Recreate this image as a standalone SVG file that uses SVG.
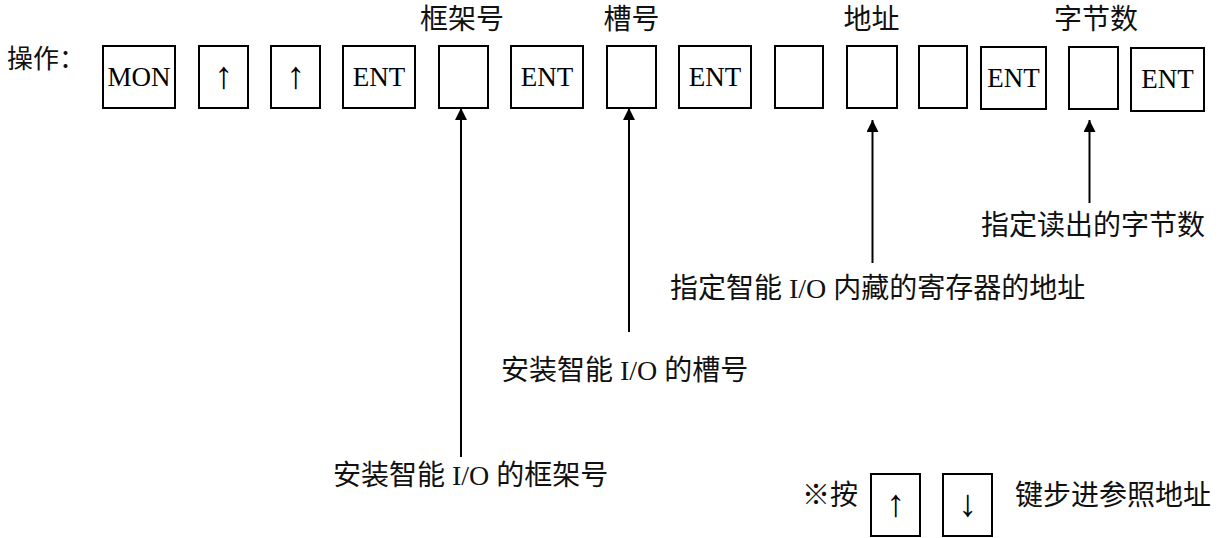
<svg xmlns="http://www.w3.org/2000/svg" width="1221" height="538" viewBox="0 0 1221 538">
<style>
.key{fill:#fff;stroke:#000;stroke-width:2}
.kt{font-family:"Liberation Serif","Noto Sans CJK SC",serif;font-size:27px;fill:#000;text-anchor:middle}
.ar{font-family:"Liberation Serif","DejaVu Serif",serif;font-size:38px;fill:#000;text-anchor:middle}
.lb{font-family:"Liberation Serif","Noto Sans CJK SC",serif;font-size:28px;fill:#111}
.lc{font-family:"Liberation Serif","Noto Sans CJK SC",serif;font-size:28px;fill:#111;text-anchor:middle}
.ln{stroke:#000;stroke-width:2;fill:none}
</style>
<defs>
<marker id="ah" markerUnits="userSpaceOnUse" markerWidth="12" markerHeight="12" refX="12" refY="6" orient="auto" viewBox="0 0 12 12">
<path d="M0,0 L12,6 L0,12 Z" fill="#000"/>
</marker>
</defs>
<text id="op" class="lb" x="7" y="68" style="font-size:26px">操作：</text>
<g id="k1"><rect class="key" x="103" y="46" width="72" height="62"/><text class="kt" x="139" y="86">MON</text></g>
<g id="k2"><rect class="key" x="199" y="46" width="49" height="62"/><text class="ar" x="223.5" y="88">↑</text></g>
<g id="k3"><rect class="key" x="271" y="46" width="49" height="62"/><text class="ar" x="295.5" y="88">↑</text></g>
<g id="k4"><rect class="key" x="343" y="46" width="72" height="62"/><text class="kt" x="379" y="86">ENT</text></g>
<g id="k5"><rect class="key" x="439" y="46" width="49" height="62"/></g>
<g id="k6"><rect class="key" x="511" y="46" width="72" height="62"/><text class="kt" x="547" y="86">ENT</text></g>
<g id="k7"><rect class="key" x="607" y="46" width="49" height="62"/></g>
<g id="k8"><rect class="key" x="679" y="46" width="72" height="62"/><text class="kt" x="715" y="86">ENT</text></g>
<g id="k9"><rect class="key" x="775" y="46" width="48" height="62"/></g>
<g id="k10"><rect class="key" x="847" y="46" width="50" height="62"/></g>
<g id="k11"><rect class="key" x="919" y="46" width="48" height="62"/></g>
<g id="k12"><rect class="key" x="981" y="47" width="65" height="62"/><text class="kt" x="1013.5" y="87">ENT</text></g>
<g id="k13"><rect class="key" x="1069" y="47" width="49" height="62"/></g>
<g id="k14"><rect class="key" x="1131" y="48" width="73" height="63"/><text class="kt" x="1167.5" y="88">ENT</text></g>
<g id="h1"><text class="lc" x="462" y="29">框架号</text></g>
<g id="h2"><text class="lc" x="631.5" y="29">槽号</text></g>
<g id="h3"><text class="lc" x="871.5" y="29">地址</text></g>
<g id="h4"><text class="lc" x="1096" y="29">字节数</text></g>
<g id="connectors">
<line class="ln" x1="461" y1="457" x2="461" y2="108" marker-end="url(#ah)"/>
<line class="ln" x1="629" y1="332" x2="629" y2="108" marker-end="url(#ah)"/>
<line class="ln" x1="872.5" y1="263" x2="872.5" y2="120" marker-end="url(#ah)"/>
<line class="ln" x1="1089.5" y1="203" x2="1089.5" y2="120" marker-end="url(#ah)"/>
</g>
<g id="n1"><text class="lb" x="981" y="235">指定读出的字节数</text></g>
<g id="n2"><text class="lb" x="670" y="298">指定智能 I/O 内藏的寄存器的地址</text></g>
<g id="n3"><text class="lb" x="501" y="380">安装智能 I/O 的槽号</text></g>
<g id="n4"><text class="lb" x="333" y="485">安装智能 I/O 的框架号</text></g>
<g id="note">
<text class="lb" x="802" y="505">※按</text>
<rect class="key" x="871" y="474" width="49" height="62"/><text class="ar" x="895.5" y="516">↑</text>
<rect class="key" x="943" y="474" width="49" height="62"/><text class="ar" x="967.5" y="516">↓</text>
<text class="lb" x="1015" y="505">键步进参照地址</text>
</g>
</svg>
